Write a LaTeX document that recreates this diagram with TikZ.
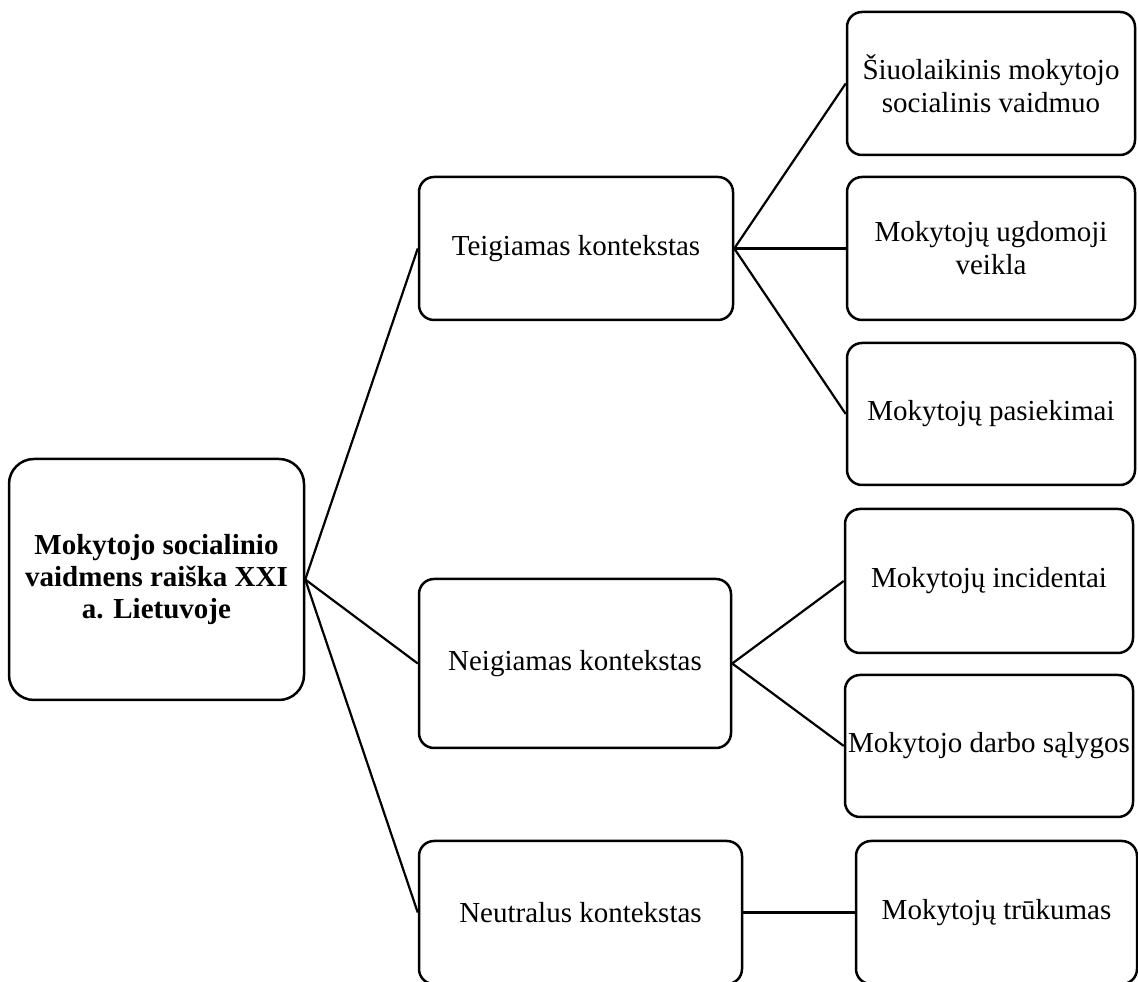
\documentclass[tikz,border=0pt]{standalone}
\usepackage{fontspec}
\setmainfont{Liberation Serif}
\begin{document}
\begin{tikzpicture}[x=1pt,y=1pt,
  box/.style={draw=black, line width=2.5pt, rounded corners=15pt, fill=white,
    align=center, inner sep=0pt, font=\fontsize{29}{33}\selectfont},
  link/.style={draw=black, line width=2.2pt}]
\useasboundingbox (0,0) rectangle (1138,982);
% root (y = 982 - pixel y)
\node[box, rounded corners=25pt, minimum width=295pt, minimum height=241pt,
  font=\fontsize{29}{32}\selectfont\bfseries] (root) at (156.5,402.5)
  {Mokytojo socialinio\\vaidmens raiška XXI\\a. Lietuvoje};
% middle level
\node[box, minimum width=314pt, minimum height=143pt] (teig) at (576,733.5) {Teigiamas kontekstas};
\node[box, minimum width=312pt, minimum height=169pt] (neig) at (575,318.5) {Neigiamas kontekstas};
\node[box, minimum width=323pt, minimum height=143pt] (neut) at (580.5,69.5) {Neutralus kontekstas};
% right level
\node[box, minimum width=288pt, minimum height=143pt] (s1) at (991,898.5) {Šiuolaikinis mokytojo\\socialinis vaidmuo};
\node[box, minimum width=288pt, minimum height=143pt] (s2) at (991,733.5) {Mokytojų ugdomoji\\veikla};
\node[box, minimum width=288pt, minimum height=142pt] (s3) at (991,568) {Mokytojų pasiekimai};
\node[box, minimum width=288pt, minimum height=144pt] (n1) at (989,401) {Mokytojų incidentai};
\node[box, minimum width=288pt, minimum height=142pt] (n2) at (989,236) {Mokytojo darbo sąlygos};
\node[box, minimum width=281pt, minimum height=143pt] (t1) at (996.5,69.5) {Mokytojų trūkumas};
% connectors
\draw[link] (root.east) -- (teig.west);
\draw[link] (root.east) -- (neig.west);
\draw[link] (root.east) -- (neut.west);
\draw[link] (teig.east) -- (s1.west);
\draw[link] (teig.east) -- (s2.west);
\draw[link] (teig.east) -- (s3.west);
\draw[link] (neig.east) -- (n1.west);
\draw[link] (neig.east) -- (n2.west);
\draw[link] (neut.east) -- (t1.west);
\end{tikzpicture}
\end{document}
